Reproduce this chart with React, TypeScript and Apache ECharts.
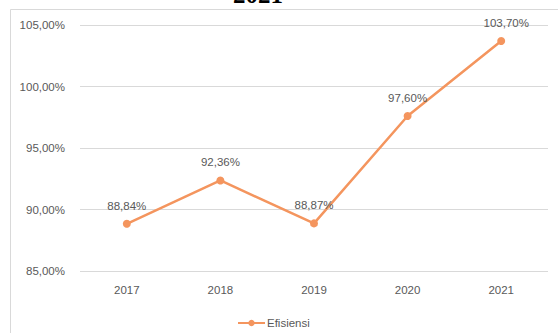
import React, { useEffect, useRef } from "react";
import * as echarts from "echarts";

const categories = ["2017", "2018", "2019", "2020", "2021"];
const efisiensi = [88.84, 92.36, 88.87, 97.6, 103.7];
const seriesName = "Efisiensi";
const titleText = "2021";

const fmt = (v: number) => v.toFixed(2).replace(".", ",") + "%";

export default function App() {
  const ref = useRef<HTMLDivElement>(null);
  useEffect(() => {
    if (!ref.current) return;
    const chart = echarts.init(ref.current, null, { renderer: "svg" });
    const font = "'Liberation Sans', Arial, sans-serif";
    chart.setOption({
      animation: false,
      backgroundColor: "#ffffff",
      graphic: [
        {
          type: "rect",
          shape: { x: 10.5, y: 9.5, width: 600, height: 400 },
          style: { fill: "none", stroke: "#d9d9d9", lineWidth: 1 },
          z: 0,
        },
        {
          type: "text",
          x: 258,
          y: 7,
          style: {
            text: titleText,
            font: "bold 25px 'Liberation Serif', 'Times New Roman', serif",
            fill: "#000000",
            align: "center",
            verticalAlign: "bottom",
          },
          z: 10,
        },
      ],
      grid: { left: 80, right: 10, top: 25, bottom: 62, containLabel: false },
      xAxis: {
        type: "category",
        data: categories,
        boundaryGap: true,
        axisLine: { show: false },
        axisTick: { show: false },
        axisLabel: { color: "#595959", fontSize: 11.5, fontFamily: font, margin: 13 },
      },
      yAxis: {
        type: "value",
        min: 85,
        max: 105,
        interval: 5,
        axisLine: { show: false },
        axisTick: { show: false },
        splitLine: { lineStyle: { color: "#d9d9d9", width: 1 } },
        axisLabel: {
          color: "#595959",
          fontSize: 11.5,
          fontFamily: font,
          margin: 15,
          formatter: (v: number) => fmt(v),
        },
      },
      legend: {
        show: true,
        left: 232,
        top: 312,
        itemWidth: 27,
        itemHeight: 8,
        itemGap: 4,
        textStyle: { color: "#595959", fontSize: 11.5, fontFamily: font, padding: [0, 0, 0, -3] },
        data: [seriesName],
      },
      series: [
        {
          name: seriesName,
          type: "line",
          data: efisiensi.map((v, i) =>
            i === efisiensi.length - 1
              ? { value: v, label: { offset: [5, 0] } }
              : v
          ),
          symbol: "circle",
          symbolSize: 8,
          lineStyle: { color: "#F4955E", width: 2.5 },
          itemStyle: { color: "#F4955E" },
          label: {
            show: true,
            position: "top",
            distance: 8,
            color: "#595959",
            fontSize: 11.5,
            fontFamily: font,
            formatter: (p: any) => fmt(p.value),
          },
        },
      ],
    });
    return () => chart.dispose();
  }, []);
  return (
    <div
      ref={ref}
      style={{ position: "fixed", left: 0, top: 0, width: 558, height: 333 }}
    />
  );
}
